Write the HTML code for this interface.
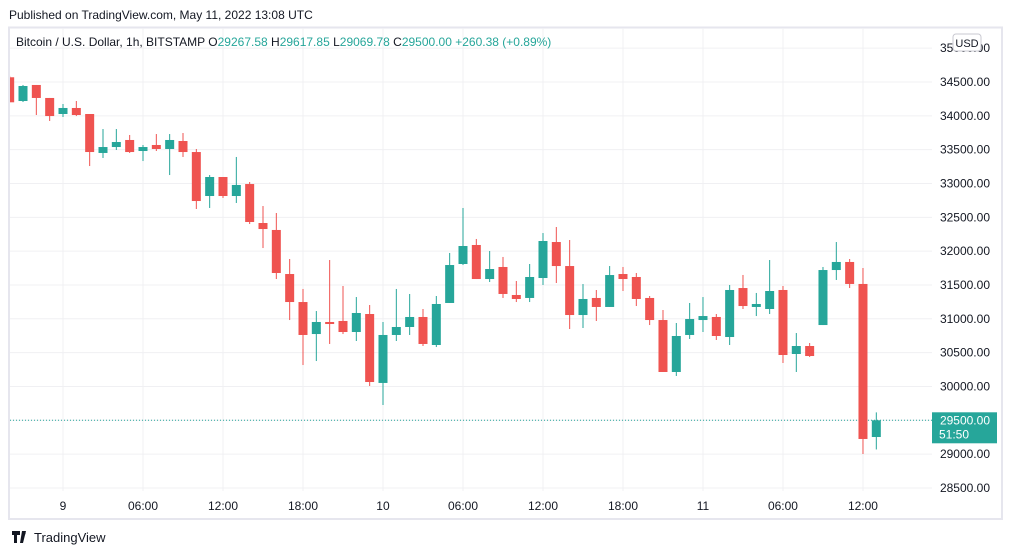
<!DOCTYPE html>
<html><head><meta charset="utf-8"><style>
body{margin:0;background:#fff;font-family:"Liberation Sans",sans-serif;}
svg text{font-family:"Liberation Sans",sans-serif;}
</style></head><body>
<svg id="chart" width="1012" height="555" viewBox="0 0 1012 555" xmlns="http://www.w3.org/2000/svg">
<rect x="0" y="0" width="1012" height="555" fill="#fff"/>
<text x="9" y="19" font-size="12" fill="#131722">Published on TradingView.com, May 11, 2022 13:08 UTC</text>
<rect x="9" y="27.5" width="993" height="491.5" fill="none" stroke="#e6e6ee" stroke-width="2"/>
<g id="grid"></g>
<g id="candles"></g>
<g id="yaxis"></g>
<g id="xaxis"></g>
<text x="16" y="46" font-size="12"><tspan fill="#131722">Bitcoin / U.S. Dollar, 1h, BITSTAMP  O</tspan><tspan fill="#26a69a">29267.58 </tspan><tspan fill="#131722">H</tspan><tspan fill="#26a69a">29617.85 </tspan><tspan fill="#131722">L</tspan><tspan fill="#26a69a">29069.78 </tspan><tspan fill="#131722">C</tspan><tspan fill="#26a69a">29500.00 </tspan><tspan fill="#26a69a">+260.38 (+0.89%)</tspan></text>
<rect x="953" y="34" width="28" height="17" rx="3" fill="#fff" stroke="#c8c8d0"/>
<text x="967" y="47" font-size="11" fill="#131722" text-anchor="middle">USD</text>
<g>
<path d="M12 531h8v4h-3v8h-3v-8h-2z M22 531l-2 12h3l3-12z" fill="#131722"/>
<circle cx="24" cy="533" r="1.6" fill="#131722"/>
<text x="34" y="542" font-size="13" fill="#131722">TradingView</text>
</g>
</svg>
<script>
const hours=[-4,-3,-2,-1,0,1,2,3,4,5,6,7,8,9,10,11,12,13,14,15,16,17,18,19,20,21,22,23,24,25,26,27,28,29,30,31,32,33,34,35,36,37,38,39,40,41,42,43,44,45,46,47,48,49,50,51,52,53,54,55,56,57,58,59,60,61];
const opens=[34570,34219,34456,34264,34027,34116,34027,33451,33539,33643,33480,33569,33510,33628,33465,32815,33096,32815,32992,32416,32313,31662,31248,30775,30953,30968,30805,31071,30052,30761,30879,31027,30613,31234,31810,32091,31588,31766,31352,31308,31603,32135,31780,31056,31308,31175,31662,31618,31308,30982,30214,30761,30982,31027,30731,31455,31175,31145,31426,30480,30598,30908,31721,31840,31515,29253];
const highs=[34590,34456,34456,34264,34175,34219,34027,33805,33805,33717,33569,33731,33731,33746,33510,33125,33096,33392,33022,32667,32564,31884,31441,31115,31869,31485,31322,31204,30953,31441,31367,31145,31337,31973,32638,32180,32002,31914,31559,31810,32268,32357,32165,31514,31426,31780,31766,31677,31337,31130,30938,31234,31322,31071,31500,31648,31382,31869,31485,30790,30642,31766,32135,31884,31751,29617];
const lows=[34200,34204,34012,33924,33983,33997,33258,33377,33495,33451,33332,33480,33125,33392,32623,32638,32786,32712,32401,32046,31588,30982,30317,30376,30628,30775,30672,30007,29726,30672,30761,30598,30583,31234,31795,31588,31544,31308,31248,31248,31500,31529,30849,30864,30968,31175,31411,31189,30908,30214,30155,30702,30805,30687,30613,31145,31041,31071,30347,30214,30436,30908,31574,31455,29002,29069];
const closes=[34200,34441,34264,33997,34116,34012,33465,33539,33613,33465,33539,33510,33643,33465,32741,33096,32815,32978,32431,32327,31677,31248,30761,30953,30923,30805,31086,30066,30761,30879,31027,30628,31219,31795,32076,31588,31736,31367,31293,31618,32150,31780,31056,31293,31175,31647,31588,31293,30982,30214,30746,30997,31041,30746,31426,31189,31219,31411,30465,30598,30450,31721,31840,31515,29224,29500];
const priceTicks=[35000,34500,34000,33500,33000,32500,32000,31500,31000,30500,30000,29500,29000,28500];
const timeTickHours=[0,6,12,18,24,30,36,42,48,54,60];
const timeTickLabels=["9","06:00","12:00","18:00","10","06:00","12:00","18:00","11","06:00","12:00"];
const lastPrice=29500, countdown="51:50";

const NS="http://www.w3.org/2000/svg";
const PL=10,PR=932,PT=28,PB=491;
const yS=p=>82+(34500-p)/500*33.83;
const xS=h=>63+h*13.333;
function mk(tag,attrs,parent){const e=document.createElementNS(NS,tag);for(const k in attrs)e.setAttribute(k,attrs[k]);parent.appendChild(e);return e;}
const grid=document.getElementById('grid'),cg=document.getElementById('candles'),ya=document.getElementById('yaxis'),xa=document.getElementById('xaxis');
priceTicks.forEach(p=>{const y=yS(p);
 const l=mk('line',{x1:PL,x2:PR,y1:y,y2:y,stroke:'#f0f0f3','stroke-width':1},grid);
 
 
 if(y<PB+5){const t=mk('text',{x:990,y:y+4,'font-size':12,fill:'#131722','text-anchor':'end'},ya);t.textContent=p.toFixed(2);
 
 }
});
timeTickHours.forEach((h,i)=>{const x=xS(h);
 const l=mk('line',{x1:x,x2:x,y1:PT,y2:PB,stroke:'#f0f0f3','stroke-width':1},grid);
 
 
 const t=mk('text',{x:x,y:510,'font-size':12,fill:'#131722','text-anchor':'middle'},xa);t.textContent=timeTickLabels[i];
 
 
});
const clip=mk('clipPath',{id:'pc'},document.getElementById('chart'));mk('rect',{x:PL,y:PT,width:PR-PL,height:PB-PT},clip);
cg.setAttribute('clip-path','url(#pc)');
hours.forEach((h,i)=>{const x=xS(h),o=opens[i],c=closes[i],up=c>=o,col=up?'#26a69a':'#ef5350';
 const g=mk('g',{},cg);
 
 
 mk('line',{x1:x,x2:x,y1:yS(highs[i]),y2:yS(lows[i]),stroke:col,'stroke-width':1},g);
 const t=yS(Math.max(o,c)),b=yS(Math.min(o,c));
 mk('rect',{x:x-4.5,y:t,width:9,height:Math.max(1,b-t),fill:col},g);
});
const ly=yS(lastPrice);
const pl=mk('line',{x1:PL,x2:PR,y1:ly,y2:ly,stroke:'#26a69a','stroke-width':1,'stroke-dasharray':'1 2'},grid);


const lb=mk('rect',{x:932,y:ly-8,width:65,height:31,fill:'#26a69a'},ya);


const t1=mk('text',{x:990,y:ly+4,'font-size':12,fill:'#fff','text-anchor':'end'},ya);t1.textContent=lastPrice.toFixed(2);


const t2=mk('text',{x:939,y:ly+18,'font-size':12,fill:'#fff'},ya);t2.textContent=countdown;


</script>
</body></html>
